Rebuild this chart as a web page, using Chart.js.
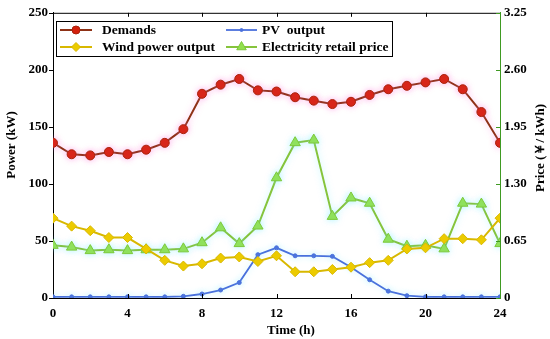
<!DOCTYPE html>
<html>
<head>
<meta charset="utf-8">
<script src="https://cdn.jsdelivr.net/npm/chart.js@4/dist/chart.umd.min.js"></script>
<style>
  html, body { margin: 0; padding: 0; background: #fff; }
  #wrap { width: 550px; height: 339px; }
</style>
</head>
<body>
<div id="wrap"><canvas id="energyChart" width="550" height="339"></canvas></div>
<script>
const hours = [0,1,2,3,4,5,6,7,8,9,10,11,12,13,14,15,16,17,18,19,20,21,22,23,24];
const demands = [136,126,125,128,126,130,136,148,179,187,192,182,181,176,173,170,172,178,183,186,189,192,183,163,136];
const windOutput = [70,63,59,53,53,43,33,28,30,35,36,32,37,23,23,25,27,31,33,43,44,52,52,51,70];
const pvOutput = [1,1,1,1,1,1,1,1.5,3.5,7,13.5,38,44,37,37,36.5,27,16,6,2,1,1,1,1,1];
const retailPrice = [0.60,0.58,0.54,0.55,0.54,0.55,0.55,0.56,0.63,0.80,0.62,0.82,1.37,1.77,1.80,0.93,1.14,1.08,0.67,0.59,0.60,0.56,1.08,1.07,0.62];
const powerTicks = [0,50,100,150,200,250];
const priceTicks = [0,0.65,1.30,1.95,2.60,3.25];
const timeTicks = [0,4,8,12,16,20,24];

const serif = '"Liberation Serif", "Times New Roman", serif';
const boldFont = 'bold 13px ' + serif;

function pts(vals) {
    return hours.map((h, i) => ({ x: h, y: vals[i] }));
}

// top border, tick marks and axis titles
const frame = {
    id: 'frame',
    afterDraw(chart) {
        const { ctx, chartArea: a, scales } = chart;
        ctx.save();
        ctx.strokeStyle = '#000';
        ctx.lineWidth = 1;
        ctx.beginPath();
        ctx.moveTo(a.left, a.top + 0.5);
        ctx.lineTo(a.right, a.top + 0.5);
        timeTicks.slice(1, -1).forEach(v => {
            const x = Math.round(scales.x.getPixelForValue(v)) + 0.5;
            ctx.moveTo(x, a.top);
            ctx.lineTo(x, a.top + 4);
            ctx.moveTo(x, a.bottom);
            ctx.lineTo(x, a.bottom - 4);
        });
        powerTicks.forEach(v => {
            const y = Math.round(scales.y.getPixelForValue(v)) + 0.5;
            ctx.moveTo(a.left, y);
            ctx.lineTo(a.left - 4, y);
        });
        ctx.stroke();
        ctx.strokeStyle = '#3f9a22';
        ctx.beginPath();
        priceTicks.forEach(v => {
            const y = Math.round(scales.y1.getPixelForValue(v)) + 0.5;
            ctx.moveTo(a.right, y);
            ctx.lineTo(a.right - 4, y);
        });
        ctx.stroke();

        ctx.fillStyle = '#000';
        ctx.font = boldFont;
        ctx.textAlign = 'center';
        ctx.textBaseline = 'middle';
        ctx.fillText('Time (h)', 291, 331);
        ctx.save();
        ctx.translate(12, 145);
        ctx.rotate(-Math.PI / 2);
        ctx.fillText('Power (kW)', 0, 0);
        ctx.restore();
        ctx.save();
        ctx.translate(541, 148);
        ctx.rotate(-Math.PI / 2);
        ctx.fillText('Price (￥/ kWh)', 0, 0);
        ctx.restore();
        ctx.restore();
    }
};

// soft halo behind some series, like the reference
const glow = {
    id: 'glow',
    beforeDatasetDraw(chart, args) {
        const c = ['rgba(255,120,220,0.5)', null, 'rgba(120,230,255,0.4)', 'rgba(120,240,255,0.5)'][args.index];
        chart.ctx.save();
        if (c) {
            chart.ctx.shadowColor = c;
            chart.ctx.shadowBlur = 6;
        }
    },
    afterDatasetDraw(chart) {
        chart.ctx.restore();
    }
};

// boxed legend in two columns
const boxLegend = {
    id: 'boxLegend',
    afterDraw(chart) {
        const ctx = chart.ctx;
        const ds = chart.data.datasets;
        const box = { x: 56.5, y: 21.5, w: 336, h: 35 };
        const cols = [{ l: 60, r: 92, t: 102 }, { l: 226, r: 257, t: 262 }];
        const rows = [30, 47];
        const order = [[0, 0, 0], [1, 1, 0], [2, 0, 1], [3, 1, 1]]; // dataset, row, col
        ctx.save();
        ctx.fillStyle = '#fff';
        ctx.fillRect(box.x, box.y, box.w, box.h);
        ctx.strokeStyle = '#000';
        ctx.lineWidth = 1;
        ctx.strokeRect(box.x, box.y, box.w, box.h);
        ctx.font = 'bold 13.5px ' + serif;
        ctx.textBaseline = 'middle';
        ctx.textAlign = 'left';
        order.forEach(([d, r, c]) => {
            const s = ds[d];
            const y = rows[r];
            const col = cols[c];
            ctx.strokeStyle = s.borderColor;
            ctx.lineWidth = s.borderWidth;
            ctx.beginPath();
            ctx.moveTo(col.l, y);
            ctx.lineTo(col.r, y);
            ctx.stroke();
            ctx.fillStyle = s.pointBackgroundColor;
            ctx.strokeStyle = s.pointBorderColor;
            ctx.lineWidth = 1;
            Chart.helpers.drawPoint(ctx, {
                pointStyle: s.pointStyle,
                radius: s.pointRadius - 0.5,
                borderWidth: 1,
                rotation: 0
            }, (col.l + col.r) / 2, y);
            ctx.fillStyle = '#000';
            ctx.fillText(s.label, col.t, y + 1);
        });
        ctx.restore();
    }
};

const chart = new Chart(document.getElementById('energyChart'), {
    type: 'line',
    data: {
        datasets: [
            {
                label: 'Demands',
                data: pts(demands),
                yAxisID: 'y',
                borderColor: '#8e3216',
                borderWidth: 2,
                pointStyle: 'circle',
                pointRadius: 4.5,
                pointBackgroundColor: '#d5200c',
                pointBorderColor: '#a8240e',
                pointBorderWidth: 1
            },
            {
                label: 'Wind power output',
                data: pts(windOutput),
                yAxisID: 'y',
                borderColor: '#d8b800',
                borderWidth: 2,
                pointStyle: 'rectRot',
                pointRadius: 5,
                pointBackgroundColor: '#eccb00',
                pointBorderColor: '#d8b800',
                pointBorderWidth: 1
            },
            {
                label: 'PV  output',
                data: pts(pvOutput),
                yAxisID: 'y',
                borderColor: '#4a70dc',
                borderWidth: 1.8,
                pointStyle: 'circle',
                pointRadius: 2,
                pointBackgroundColor: '#4a70dc',
                pointBorderColor: '#4a70dc',
                pointBorderWidth: 1
            },
            {
                label: 'Electricity retail price',
                data: pts(retailPrice),
                yAxisID: 'y1',
                borderColor: '#86c43c',
                borderWidth: 2,
                pointStyle: 'triangle',
                pointRadius: 6,
                pointBackgroundColor: '#92e04c',
                pointBorderColor: '#7cc83a',
                pointBorderWidth: 1
            }
        ]
    },
    options: {
        responsive: false,
        animation: false,
        layout: { padding: { top: 10, left: 0, right: 0, bottom: 0 } },
        plugins: {
            legend: { display: false },
            tooltip: { enabled: false }
        },
        elements: { line: { tension: 0 } },
        scales: {
            x: {
                type: 'linear',
                position: 'bottom',
                min: 0,
                max: 24,
                afterFit: s => { s.height = 41; },
                afterBuildTicks: s => { s.ticks = timeTicks.map(v => ({ value: v })); },
                grid: { drawOnChartArea: false, drawTicks: false },
                border: { color: '#000', width: 1 },
                ticks: { color: '#000', padding: 8, maxRotation: 0, font: { family: serif, size: 13, weight: 'bold' } }
            },
            y: {
                position: 'left',
                min: 0,
                max: 250,
                afterFit: s => { s.width = 53; },
                afterBuildTicks: s => { s.ticks = powerTicks.map(v => ({ value: v })); },
                grid: { drawOnChartArea: false, drawTicks: false },
                border: { color: '#000', width: 1 },
                ticks: { color: '#000', padding: 5, font: { family: serif, size: 13, weight: 'bold' } }
            },
            y1: {
                position: 'right',
                min: 0,
                max: 3.25,
                afterFit: s => { s.width = 50; },
                afterBuildTicks: s => { s.ticks = priceTicks.map(v => ({ value: v })); },
                grid: { drawOnChartArea: false, drawTicks: false },
                border: { color: '#3f9a22', width: 1 },
                ticks: {
                    color: '#000',
                    padding: 4,
                    font: { family: serif, size: 13, weight: 'bold' },
                    callback: v => v === 0 ? '0' : v.toFixed(2)
                }
            }
        }
    },
    plugins: [glow, frame, boxLegend]
});
</script>
</body>
</html>
